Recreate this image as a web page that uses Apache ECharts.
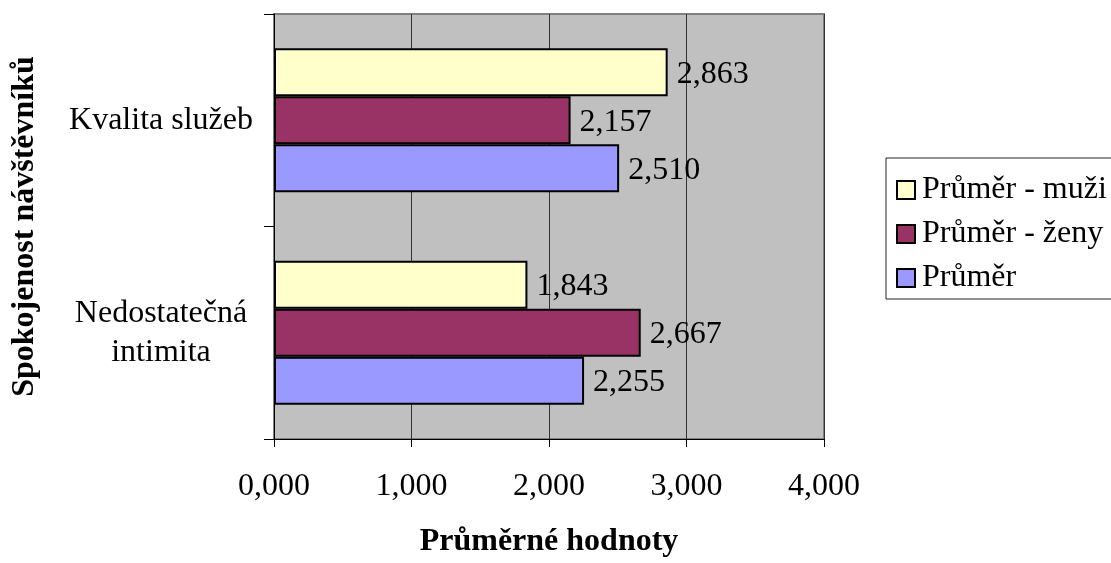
<!DOCTYPE html>
<html>
<head>
<meta charset="utf-8">
<script src="https://cdn.jsdelivr.net/npm/echarts@6/dist/echarts.min.js"></script>
<style>html,body{margin:0;padding:0;background:#fff}#c{width:1111px;height:563px}</style>
</head>
<body>
<div id="c"></div>
<script>
const categories = ['Nedostatečná intimita', 'Kvalita služeb'];
const seriesNames = ['Průměr - muži', 'Průměr - ženy', 'Průměr'];
const valuesMuzi = [1.843, 2.863];
const valuesZeny = [2.667, 2.157];
const valuesPrumer = [2.255, 2.510];
const xTicks = [0, 1, 2, 3, 4];
const xAxisTitle = 'Průměrné hodnoty';
const yAxisTitle = 'Spokojenost návštěvníků';

const colors = ['#FFFFCC', '#993366', '#9999FF'];
const FONT = '"Liberation Serif", "Times New Roman", serif';
const fmt = v => Number(v).toFixed(3).replace('.', ',');

const chart = echarts.init(document.getElementById('c'), null, {renderer: 'canvas'});
const dataSets = [valuesMuzi, valuesZeny, valuesPrumer];
const series = seriesNames.map((name, i) => ({
  name: name,
  type: 'bar',
  data: dataSets[i],
  barWidth: 48,
  barGap: '0%',
  itemStyle: {color: colors[i], borderColor: '#000', borderWidth: 2},
  label: {
    show: true, position: 'right', distance: 9,
    formatter: p => fmt(p.value),
    fontFamily: FONT, fontSize: 32, color: '#000', offset: [0, 2]
  },
  emphasis: {disabled: true},
  animation: false
}));

chart.setOption({
  animation: false,
  textStyle: {fontFamily: FONT},
  grid: {
    left: 274, right: 287, top: 14, bottom: 121,
    show: true, backgroundColor: '#C0C0C0', borderColor: '#808080', borderWidth: 2,
    containLabel: false
  },
  legend: {
    data: seriesNames,
    orient: 'vertical',
    left: 886, top: 158,
    padding: [16, 30, 5, 10],
    itemGap: 12,
    itemWidth: 18, itemHeight: 18,
    icon: 'rect',
    backgroundColor: '#fff',
    borderColor: '#222', borderWidth: 1,
    itemStyle: {borderColor: '#000', borderWidth: 2},
    textStyle: {fontFamily: FONT, fontSize: 32, color: '#000', padding: [0, 0, 0, 2]},
    selectedMode: false
  },
  xAxis: {
    type: 'value',
    min: xTicks[0], max: xTicks[xTicks.length - 1], interval: 1,
    axisLine: {show: true, lineStyle: {color: '#000', width: 1}},
    axisTick: {show: true, length: 8, lineStyle: {color: '#000'}},
    axisLabel: {formatter: fmt, fontFamily: FONT, fontSize: 32, color: '#000', margin: 32},
    splitLine: {show: true, lineStyle: {color: '#333', width: 1}},
    name: xAxisTitle, nameLocation: 'middle', nameGap: 87,
    nameTextStyle: {fontFamily: FONT, fontSize: 32, fontWeight: 'bold', color: '#000'}
  },
  yAxis: {
    type: 'category',
    data: categories,
    axisLine: {show: true, lineStyle: {color: '#000', width: 1}},
    axisTick: {show: true, length: 10, lineStyle: {color: '#000'}},
    axisLabel: {
      formatter: v => v.replace('Nedostatečná ', 'Nedostatečná\n'),
      fontFamily: FONT, fontSize: 32, color: '#000', align: 'center', margin: 113, lineHeight: 39
    },
    name: yAxisTitle, nameLocation: 'middle', nameGap: 233, nameRotate: 90,
    nameTextStyle: {fontFamily: FONT, fontSize: 32, fontWeight: 'bold', color: '#000'}
  },
  series: series
});
</script>
</body>
</html>
